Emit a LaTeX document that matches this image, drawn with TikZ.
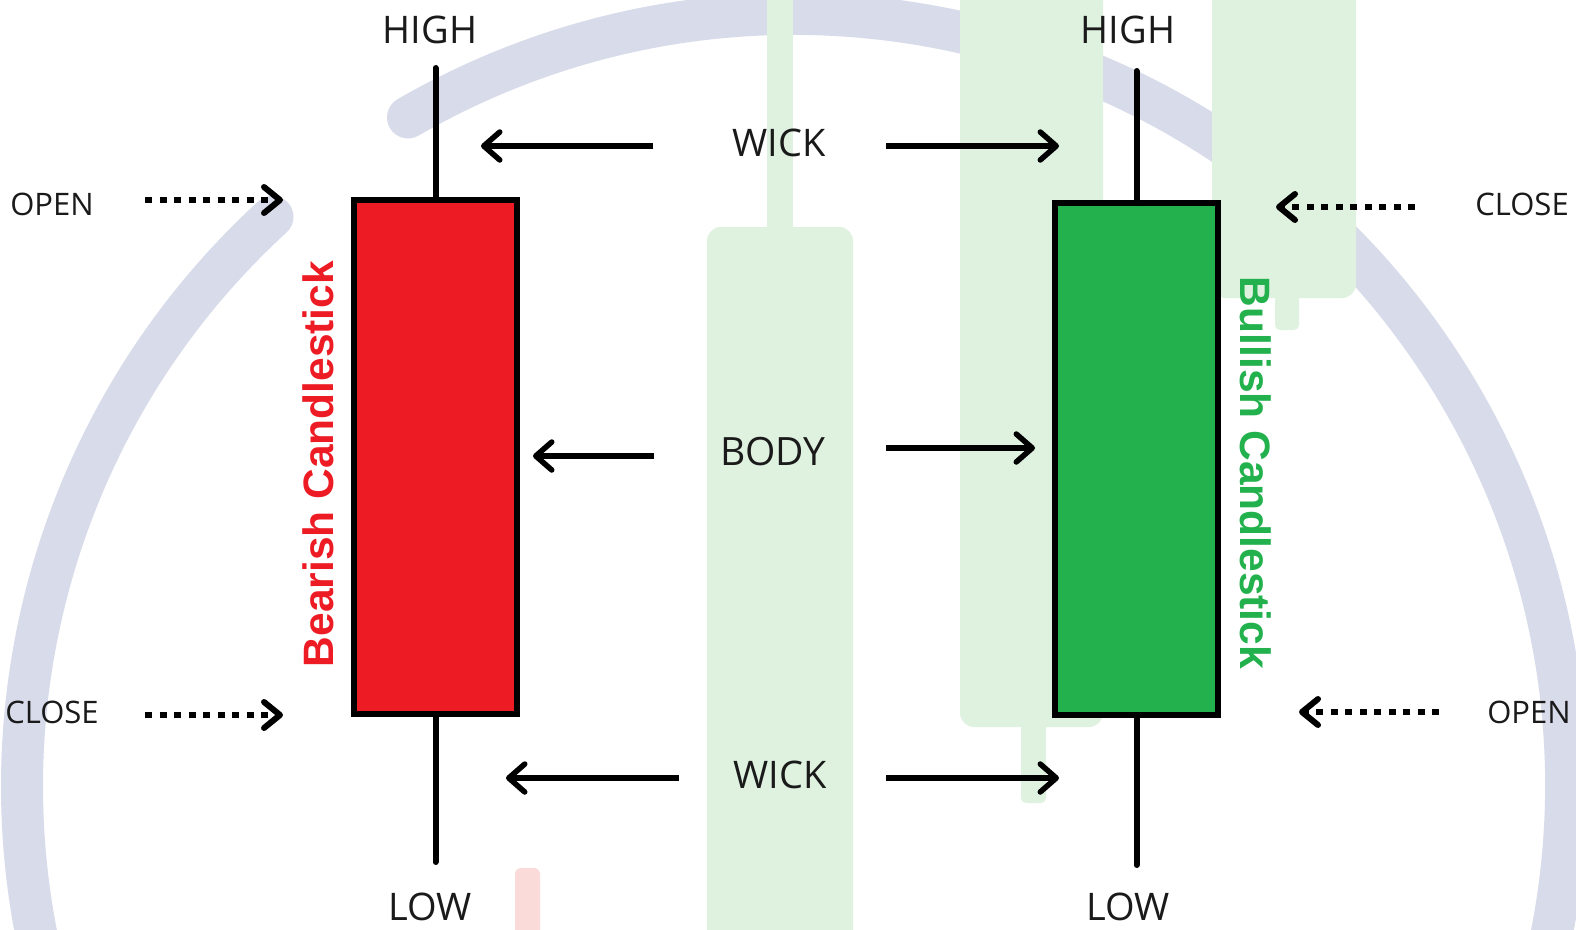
\documentclass[tikz,border=0pt]{standalone}
\usepackage{fontspec}
\setmainfont{Open Sans}
\newfontfamily\arialfont{Liberation Sans}
\usetikzlibrary{arrows.meta}
\definecolor{arcgray}{RGB}{216,219,234}
\definecolor{barGreen}{RGB}{223,242,224}
\definecolor{barPink}{RGB}{250,219,217}
\definecolor{bearRed}{RGB}{237,28,36}
\definecolor{bullGreen}{RGB}{34,177,76}
\definecolor{labText}{RGB}{26,26,26}
\begin{document}
\begin{tikzpicture}[x=1pt,y=-1pt,
  lab/.style={font=\fontsize{38}{40}\selectfont, text=labText, inner sep=0pt, anchor=base},
  smalllab/.style={font=\fontsize{31}{33}\selectfont, text=labText, inner sep=0pt, anchor=base},
  arr/.style={line width=5.5pt, -{Straight Barb[length=16pt,width=28pt,round]}},
  dotarr/.style={line width=6pt, dash pattern=on 7pt off 7.5pt, -{Straight Barb[length=16pt,width=26pt,round]}},
  wickline/.style={line width=6pt, line cap=round},
  bodybox/.style={draw=black, line width=6.5pt, inner sep=0pt, outer sep=0pt, minimum width=163pt},
  sidelab/.style={font=\arialfont\bfseries\fontsize{42.5}{44}\selectfont, inner sep=0pt, anchor=base}
]
\fill[white] (0,0) rectangle (1576,929);
\useasboundingbox (0,0) rectangle (1576,929);
\begin{scope}
  \clip (0,0) rectangle (1576,929);
  % background ring
  \draw[line width=42pt, arcgray, line cap=round] (794,786) ++(-120:772) arc[start angle=-120, end angle=227.5, radius=772];
  % faint background candles
  \fill[barGreen, rounded corners=14pt] (707,227) rectangle (853,980);
  \fill[barGreen] (767,-20) rectangle (793,240);
  \fill[barGreen, rounded corners=14pt] (960,-40) rectangle (1103,727);
  \fill[barGreen, rounded corners=5pt] (1021,700) rectangle (1046,803);
  \fill[barGreen, rounded corners=14pt] (1212,-40) rectangle (1356,298);
  \fill[barGreen, rounded corners=5pt] (1275,280) rectangle (1299,330);
  \fill[barPink, rounded corners=6pt] (515,868) rectangle (540,980);
\end{scope}

% candle bodies
\node[bodybox, fill=bearRed, minimum height=514pt] (bear) at (435.5,457) {};
\node[bodybox, fill=bullGreen, minimum height=512pt] (bull) at (1136.5,459) {};
\coordinate (bearHi) at (435.5,68);
\coordinate (bearLo) at (435.5,862);
\coordinate (bullHi) at (1136.5,71);
\coordinate (bullLo) at (1136.5,865);
\draw[wickline] (bear.north) -- (bearHi);
\draw[wickline] (bear.south) -- (bearLo);
\draw[wickline] (bull.north) -- (bullHi);
\draw[wickline] (bull.south) -- (bullLo);

% labels
\node[lab] (hiL) at (430,43) {HIGH};
\node[lab] (hiR) at (1128,43) {HIGH};
\node[lab] (loL) at (430,920) {LOW};
\node[lab] (loR) at (1128,920) {LOW};
\node[lab] (wickT) at (779,156) {WICK};
\node[lab] (wickB) at (780,788) {WICK};
\node[lab, font=\fontsize{39}{41}\selectfont] (body) at (773,465) {BODY};
\node[smalllab] (openL) at (52,215) {OPEN};
\node[smalllab] (closeL) at (52,723) {CLOSE};
\node[smalllab] (closeR) at (1522,215) {CLOSE};
\node[smalllab] (openR) at (1529,723) {OPEN};
\node[sidelab, text=bearRed, rotate=90] (bearLab) at (333,464) {Bearish Candlestick};
\node[sidelab, text=bullGreen, rotate=-90] (bullLab) at (1240,473) {Bullish Candlestick};

% solid arrows
\coordinate (wtLa) at (653,146);  \coordinate (wtLb) at (481,146);
\coordinate (wtRa) at (886,146);  \coordinate (wtRb) at (1059,146);
\coordinate (bdLa) at (654,456);  \coordinate (bdLb) at (533,456);
\coordinate (bdRa) at (886,448);  \coordinate (bdRb) at (1035,448);
\coordinate (wbLa) at (679,778);  \coordinate (wbLb) at (506,778);
\coordinate (wbRa) at (886,778);  \coordinate (wbRb) at (1059,778);
\draw[arr] (wtLa) -- (wtLb);
\draw[arr] (wtRa) -- (wtRb);
\draw[arr] (bdLa) -- (bdLb);
\draw[arr] (bdRa) -- (bdRb);
\draw[arr] (wbLa) -- (wbLb);
\draw[arr] (wbRa) -- (wbRb);

% dotted arrows
\coordinate (oLa) at (145,200);  \coordinate (oLb) at (283,200);
\coordinate (cLa) at (145,715);  \coordinate (cLb) at (283,715);
\coordinate (cRa) at (1415,207); \coordinate (cRb) at (1276,207);
\coordinate (oRa) at (1439,712); \coordinate (oRb) at (1299,712);
\draw[dotarr] (oLa) -- (oLb);
\draw[dotarr] (cLa) -- (cLb);
\draw[dotarr] (cRa) -- (cRb);
\draw[dotarr] (oRa) -- (oRb);
\end{tikzpicture}
\end{document}
